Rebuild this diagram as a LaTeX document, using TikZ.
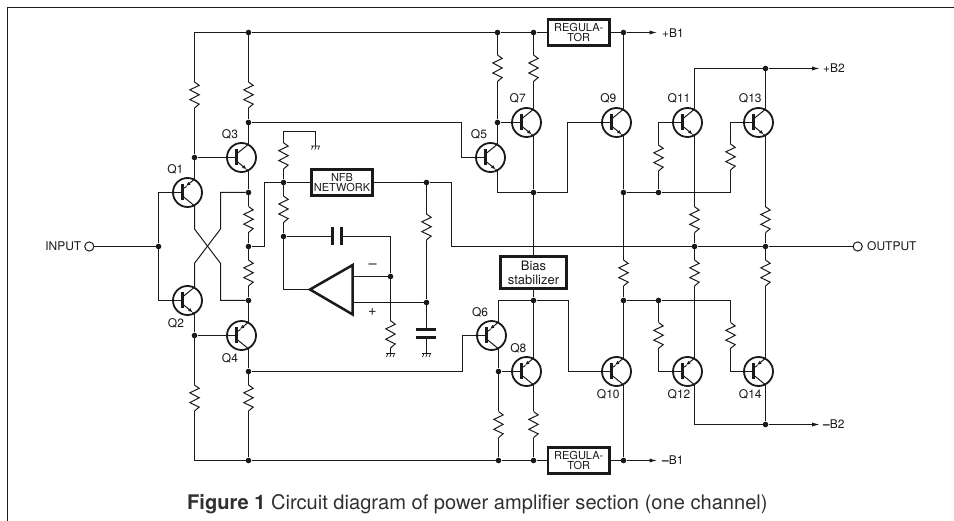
\documentclass[tikz,border=0pt]{standalone}
\usepackage{fontspec}
\setmainfont{TeX Gyre Heros}
\usetikzlibrary{arrows.meta}
\definecolor{ink}{HTML}{1A1A1A}
\definecolor{capt}{HTML}{303030}
\tikzset{
  wire/.style={draw=ink,line width=1pt,line join=miter},
  jdot/.style={circle,fill=ink,inner sep=0pt,minimum size=5.6pt},
  term/.style={circle,draw=ink,line width=1pt,fill=white,inner sep=0pt,minimum size=9.2pt},
  trc/.style={circle,draw=ink,line width=1.8pt,inner sep=0pt,minimum size=29pt},
  tbar/.style={draw=ink,line width=2.8pt},
  boxa/.style={draw=ink,line width=2.6pt,fill=white,inner sep=0pt,align=center,text=ink},
  lab/.style={inner sep=0pt,text=ink,font=\fontsize{12}{12}\selectfont},
  small/.style={font=\fontsize{11}{10}\selectfont},
  plate/.style={draw=ink,line width=2.6pt},
  tipa/.style={-{Latex[length=7.5pt,width=4.2pt]}},
  tipb/.style={-{Latex[length=4.6pt,width=3.6pt]}},
}
% name, x, y
\newcommand\TrCommon[3]{%
  \node[trc] (#1) at (#2,#3) {};
  \coordinate (#1-b) at (#2-5,#3);
  \coordinate (#1-c) at (#2+7,#3-13.3);
  \coordinate (#1-e) at (#2+7,#3+13.3);
  \draw[tbar] (#2-5,#3-8) -- (#2-5,#3+8);
}
\newcommand\TrN[3]{\TrCommon{#1}{#2}{#3}%
  \draw[wire] (#2-5,#3-3.5) -- (#1-c);
  \draw[wire,tipb] (#2-5,#3+3.5) -- (#2+5.2,#3+11.9);
  \draw[wire] (#2+5,#3+11.7) -- (#1-e);
}
\newcommand\TrP[3]{\TrCommon{#1}{#2}{#3}%
  \draw[wire] (#2-5,#3+3.5) -- (#1-e);
  \draw[wire,tipb] (#1-c) -- (#2-1.6,#3-6.3);
  \draw[wire] (#2-1,#3-6) -- (#2-5,#3-3.5);
}
% name, x, ytop, ybot
\newcommand\Res[4]{%
  \coordinate (#1-t) at (#2,#3);
  \coordinate (#1-b) at (#2,#4);
  \draw[wire] (#1-t) -- (#2+4.7,#3+.13*#4-.13*#3) -- (#2-4.7,#3+.30*#4-.30*#3)
     -- (#2+4.7,#3+.49*#4-.49*#3) -- (#2-4.7,#3+.68*#4-.68*#3)
     -- (#2+4.7,#3+.85*#4-.85*#3) -- (#1-b);
}
% name, x, y
\newcommand\Gnd[3]{%
  \coordinate (#1) at (#2,#3);
  \draw[draw=ink,line width=0.7pt] (#2-4.5,#3) -- (#2+4.5,#3)
    (#2-2.6,#3) -- (#2-4,#3+3.6) (#2+.7,#3) -- (#2-.7,#3+3.6) (#2+4,#3) -- (#2+2.6,#3+3.6);
}
\begin{document}
\begin{tikzpicture}[x=1pt,y=-1pt]
\useasboundingbox (0,0) rectangle (954,521);
% frame
\coordinate (fa) at (7.5,521); \coordinate (fb) at (7.5,7.5); \coordinate (fc) at (954,7.5);
\draw[draw=ink,line width=1.1pt] (fa) -- (fb) -- (fc);

% junctions
\foreach \n/\x/\y in {jt1/248.5/32.5,jt2/497.5/32.5,jt3/533.5/32.5,jt4/623.5/32.5,
  jb1/248.5/460.5,jb2/498.5/460.5,jb3/533.5/460.5,jb4/623.5/460.5,
  ja/194.5/157.5,jb/248.5/122.5,jc/248.5/192.5,jd/248.5/246.5,je/248.5/300.5,jf/248.5/371.5,jg/194.5/335.5,ji/158.5/246.5,
  jn1/283.5/182.5,jn2/426.5/182.5,jn3/283.5/236.5,jn4/390.5/276.5,jn5/426.5/302.5,
  js1/497.5/122.5,js2/533.5/192.5,js3/533.5/300.5,js4/498.5/371.5,
  jp1/623.5/192.5,jp2/658.5/192.5,jp3/623.5/300.5,jp4/658.5/300.5,
  jo1/694.5/246.5,jo2/765.5/246.5,jq1/765.5/68.5,jq2/765.5/424.5}
  {\node[jdot] (\n) at (\x,\y) {};}

% transistors
\TrP{q1}{187.5}{192.5}
\TrN{q2}{187.5}{300.5}
\TrN{q3}{241.5}{157.5}
\TrP{q4}{241.5}{335.5}
\TrN{q5}{490.5}{157.5}
\TrP{q6}{491.5}{335.5}
\TrN{q7}{526.5}{122.5}
\TrP{q8}{526.5}{371.5}
\TrN{q9}{616.5}{122.5}
\TrP{q10}{616.5}{371.5}
\TrN{q11}{687.5}{122.5}
\TrP{q12}{687.5}{371.5}
\TrN{q13}{758.5}{122.5}
\TrP{q14}{758.5}{371.5}

% resistors
\Res{r1}{194.5}{82}{108}
\Res{r3}{248.5}{82}{108}
\Res{r5}{248.5}{206.5}{232.5}
\Res{r6}{248.5}{260}{286}
\Res{r2}{194.5}{385}{411}
\Res{r4}{248.5}{385}{411}
\Res{r7}{283.5}{142.7}{169}
\Res{r8}{283.5}{196}{222.5}
\Res{r9}{390.5}{320.7}{348}
\Res{r10}{426.5}{214}{240}
\Res{r11}{497.5}{55}{81.5}
\Res{r12}{533.5}{55}{81.5}
\Res{r13}{498.5}{411.5}{437.7}
\Res{r14}{533.5}{411.5}{437.7}
\Res{r15}{623.5}{260}{286}
\Res{r16}{658.5}{145}{171}
\Res{r17}{730.5}{144}{170}
\Res{r18}{658.5}{322.5}{348.5}
\Res{r19}{730.5}{322.5}{348.5}
\Res{r20}{694.5}{206.7}{232.7}
\Res{r21}{765.5}{206.7}{232.7}
\Res{r22}{694.5}{260}{286}
\Res{r23}{765.5}{260}{286}

% boxes
\node[boxa,small,minimum width=61.5pt,minimum height=25.5pt] (reg1) at (578.7,32.5) {REGULA-\\TOR};
\node[boxa,small,minimum width=61.5pt,minimum height=25.5pt] (reg2) at (578.7,460.5) {REGULA-\\TOR};
\node[boxa,small,minimum width=61.5pt,minimum height=25.5pt] (nfb) at (342,182.5) {NFB\\NETWORK};
\node[boxa,font=\fontsize{13}{13.3}\selectfont,minimum width=66.5pt,minimum height=32pt] (bias) at (533.5,272.8) {Bias\\stabilizer};

% terminals
\node[term] (in) at (89.3,246.5) {};
\node[term] (out) at (857.7,246.5) {};

% rails
\coordinate (ct0) at (194.5,32.5);
\coordinate (cb0) at (194.5,460.5);
\draw[wire] (r1-t) -- (ct0) -- (jt1) -- (jt2) -- (jt3) -- (reg1.west);
\draw[wire] (reg1.east) -- (jt4);
\coordinate (ab1) at (657,32.5);
\draw[wire,tipa] (jt4) -- (ab1);
\draw[wire] (r2-b) -- (cb0) -- (jb1) -- (jb2) -- (jb3) -- (reg2.west);
\draw[wire] (reg2.east) -- (jb4);
\coordinate (ab2) at (657,460.5);
\draw[wire,tipa] (jb4) -- (ab2);

% input stage
\draw[wire] (in) -- (ji);
\coordinate (b1) at (158.5,192.5); \coordinate (b2) at (158.5,300.5);
\draw[wire] (q1-b) -- (b1) -- (ji) -- (b2) -- (q2-b);
\draw[wire] (r1-b) -- (ja) -- (q1-c);
\draw[wire] (ja) -- (q3-b);
\coordinate (x1) at (194.5,229); \coordinate (x2) at (220.5,263.3);
\coordinate (x3) at (220.5,229); \coordinate (x4) at (194.5,263.3);
\coordinate (x5) at (220.5,300.5); \coordinate (x6) at (220.5,192.5);
\draw[wire] (q1-e) -- (x1) -- (x2) -- (x5) -- (je);
\draw[wire] (jc) -- (x6) -- (x3) -- (x4) -- (q2-c);
\draw[wire] (jt1) -- (r3-t);
\draw[wire] (r3-b) -- (jb) -- (q3-c);
\draw[wire] (q3-e) -- (jc) -- (r5-t);
\draw[wire] (r5-b) -- (jd) -- (r6-t);
\draw[wire] (r6-b) -- (je) -- (q4-c);
\draw[wire] (q4-e) -- (jf) -- (r4-t);
\draw[wire] (r4-b) -- (jb1);
\draw[wire] (q2-e) -- (jg) -- (r2-t);
\draw[wire] (jg) -- (q4-b);

% links to the drivers
\coordinate (l1) at (461.5,122.5); \coordinate (l2) at (461.5,157.5);
\draw[wire] (jb) -- (l1) -- (l2) -- (q5-b);
\coordinate (l3) at (462.5,371.5); \coordinate (l4) at (462.5,335.5);
\draw[wire] (jf) -- (l3) -- (l4) -- (q6-b);

% feedback network
\coordinate (f1) at (264.5,182.5); \coordinate (f2) at (264.5,246.5);
\draw[wire] (jd) -- (f2) -- (f1) -- (jn1) -- (nfb.west);
\draw[wire] (nfb.east) -- (jn2);
\coordinate (f3) at (451.5,182.5); \coordinate (f4) at (451.5,246.5);
\draw[wire] (jn2) -- (f3) -- (f4) -- (jo1) -- (jo2) -- (out);
\coordinate (g1) at (283.5,131.5); \coordinate (g2) at (315.5,131.5);
\Gnd{gt}{315.5}{146}
\draw[wire] (r7-t) -- (g1) -- (g2) -- (gt);
\draw[wire] (r7-b) -- (jn1) -- (r8-t);
\draw[wire] (r8-b) -- (jn3);
% capacitor
\coordinate (c1) at (332.7,236.5); \coordinate (c2) at (341.7,236.5); \coordinate (c3) at (390.5,236.5);
\draw[wire] (jn3) -- (c1);
\draw[plate] (332.7,226.7) -- (332.7,245);
\draw[plate] (341.7,226.7) -- (341.7,245);
\draw[wire] (c2) -- (c3) -- (jn4) -- (r9-t);
\Gnd{gn}{390.5}{353.5}
\draw[wire] (r9-b) -- (gn);
% op amp
\coordinate (op) at (310,289.5);
\coordinate (om) at (352.7,276.5); \coordinate (opl) at (352.7,302.5);
\coordinate (a1) at (283.5,289.5);
\draw[wire] (jn3) -- (a1) -- (op);
\draw[wire] (om) -- (jn4);
\draw[wire] (opl) -- (jn5);
\draw[draw=ink,line width=2.5pt,line join=miter] (op) -- (352.7,265) -- (352.7,314.5) -- cycle;
\node[lab,font=\fontsize{14.5}{14.5}\selectfont] (minus) at (372.7,266.3) {–};
\node[lab,font=\fontsize{14.5}{14.5}\selectfont] (plus) at (372.3,311.7) {+};
% right-hand shunt
\draw[wire] (jn2) -- (r10-t);
\draw[wire] (r10-b) -- (jn5);
\coordinate (k1) at (426.5,329.3); \coordinate (k2) at (426.5,337.3);
\draw[wire] (jn5) -- (k1);
\draw[plate,line width=3pt] (416,329.3) -- (436,329.3);
\draw[plate,line width=3pt] (416,337.3) -- (436,337.3);
\Gnd{gc}{426.5}{353.5}
\draw[wire] (k2) -- (gc);

% upper drivers
\draw[wire] (jt2) -- (r11-t);
\draw[wire] (r11-b) -- (js1) -- (q5-c);
\draw[wire] (js1) -- (q7-b);
\draw[wire] (jt3) -- (r12-t);
\draw[wire] (r12-b) -- (q7-c);
\coordinate (u1) at (497.5,192.5); \coordinate (u2) at (567.5,192.5); \coordinate (u3) at (567.5,122.5);
\draw[wire] (q5-e) -- (u1) -- (js2) -- (u2) -- (u3) -- (q9-b);
\draw[wire] (q7-e) -- (js2) -- (bias.north);
% lower drivers
\draw[wire] (bias.south) -- (js3) -- (q8-c);
\coordinate (v1) at (498.5,300.5); \coordinate (v2) at (568.5,300.5); \coordinate (v3) at (568.5,371.5);
\draw[wire] (q6-c) -- (v1) -- (js3) -- (v2) -- (v3) -- (q10-b);
\draw[wire] (q6-e) -- (js4) -- (r13-t);
\draw[wire] (js4) -- (q8-b);
\draw[wire] (r13-b) -- (jb2);
\draw[wire] (q8-e) -- (r14-t);
\draw[wire] (r14-b) -- (jb3);

% output stage
\draw[wire] (jt4) -- (q9-c);
\draw[wire] (q9-e) -- (jp1) -- (r15-t);
\draw[wire] (r15-b) -- (jp3) -- (q10-c);
\draw[wire] (q10-e) -- (jb4);
\coordinate (w1) at (730.5,192.5); \coordinate (w2) at (730.5,300.5);
\draw[wire] (jp1) -- (jp2) -- (w1) -- (r17-b);
\draw[wire] (jp3) -- (jp4) -- (w2) -- (r19-t);
\coordinate (w3) at (658.5,122.5); \coordinate (w4) at (730.5,122.5);
\draw[wire] (jp2) -- (r16-b);
\draw[wire] (r16-t) -- (w3) -- (q11-b);
\draw[wire] (r17-t) -- (w4) -- (q13-b);
\coordinate (w5) at (658.5,371.5); \coordinate (w6) at (730.5,371.5);
\draw[wire] (jp4) -- (r18-t);
\draw[wire] (r18-b) -- (w5) -- (q12-b);
\draw[wire] (r19-b) -- (w6) -- (q14-b);
\coordinate (y1) at (694.5,68.5); \coordinate (ab3) at (819.5,68.5);
\draw[wire] (q11-c) -- (y1) -- (jq1) -- (q13-c);
\draw[wire,tipa] (jq1) -- (ab3);
\coordinate (y2) at (694.5,424.5); \coordinate (ab4) at (819.5,424.5);
\draw[wire] (q12-e) -- (y2) -- (jq2) -- (q14-e);
\draw[wire,tipa] (jq2) -- (ab4);
\draw[wire] (q11-e) -- (r20-t);
\draw[wire] (r20-b) -- (jo1) -- (r22-t);
\draw[wire] (r22-b) -- (q12-c);
\draw[wire] (q13-e) -- (r21-t);
\draw[wire] (r21-b) -- (jo2) -- (r23-t);
\draw[wire] (r23-b) -- (q14-c);

% labels
\foreach \n/\t/\x/\y in {l1/Q1/175.3/169.3,l3/Q3/230/134.7,l2/Q2/176/323.3,l4/Q4/230/358.7,
  l5/Q5/479/134.7,l7/Q7/517.7/98.7,l9/Q9/608.3/98.7,l11/Q11/679/98.7,l13/Q13/750.3/98.7,
  l6/Q6/480/312.7,l8/Q8/518.3/348,l10/Q10/608.3/394.3,l12/Q12/679/394.3,l14/Q14/750.3/394.3}
  {\node[lab] (t\n) at (\x,\y) {\t};}
\node[lab,anchor=east] (tin) at (81.5,246.3) {INPUT};
\node[lab,anchor=west] (tout) at (867,246.3) {OUTPUT};
\node[lab,anchor=west] (tb1) at (662,33) {+B1};
\node[lab,anchor=west] (tb2) at (662,460.5) {{\bfseries –}B1};
\node[lab,anchor=west] (tb3) at (823,68.6) {+B2};
\node[lab,anchor=west] (tb4) at (823,424.6) {{\bfseries –}B2};
\node[inner sep=0pt,text=capt,anchor=base west,font=\fontsize{20.1}{21}\selectfont] (cap) at (187,509.3) {\textbf{Figure 1} Circuit diagram of power amplifier section (one channel)};
\end{tikzpicture}
\end{document}
